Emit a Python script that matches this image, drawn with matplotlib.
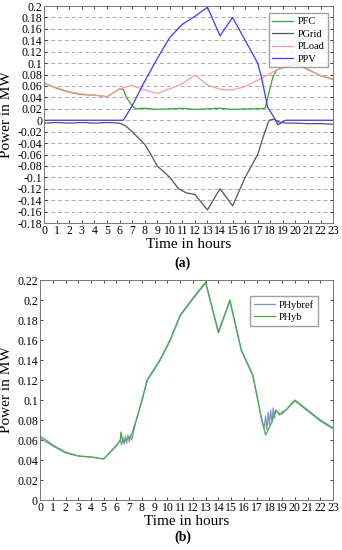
import numpy as np
import matplotlib
matplotlib.use('Agg')
import matplotlib.pyplot as plt

plt.rcParams['font.family'] = ['Liberation Serif', 'DejaVu Serif']

# (a) power flows (hour, MW)
t_load = [0, 1, 2, 3, 4, 5, 6, 7, 8, 9, 10, 11, 12, 13, 14, 15, 16, 17, 18, 18.5, 19, 20, 21, 22, 23]
p_load = [0.064, 0.057, 0.050, 0.046, 0.044, 0.041, 0.055, 0.061, 0.053, 0.047, 0.055, 0.064, 0.079, 0.062,
          0.054, 0.053, 0.059, 0.070, 0.082, 0.088, 0.092, 0.100, 0.088, 0.078, 0.071]

t_fc = [0, 1, 2, 3, 4, 5, 6, 6.3, 6.6, 7, 7.3, 8, 9, 10, 11, 12, 13, 14, 15, 16, 17, 17.6, 17.8, 18.2, 18.5,
        19, 20, 21, 22, 23]
p_fc = [0.065, 0.056, 0.049, 0.045, 0.044, 0.041, 0.055, 0.054, 0.038, 0.026, 0.020, 0.021, 0.019, 0.020,
        0.021, 0.019, 0.020, 0.021, 0.019, 0.020, 0.020, 0.021, 0.040, 0.075, 0.088, 0.092, 0.099, 0.089,
        0.078, 0.072]

t_pv = [0, 6.3, 7, 8, 9, 10, 11, 12, 13, 14, 15, 16, 17, 17.3, 17.8, 18.3, 18.6, 18.9, 19.2, 20, 23]
p_pv = [0.0, 0.0, 0.025, 0.068, 0.108, 0.145, 0.168, 0.182, 0.198, 0.148, 0.180, 0.140, 0.100, 0.075,
        0.022, 0.005, -0.008, -0.004, 0.0, 0.0, 0.0]

t_grid = [0, 1, 2, 3, 4, 5, 6, 6.5, 7, 8, 8.5, 9, 10, 10.7, 11.3, 12, 13, 14, 15, 16, 17, 17.5, 17.9, 18.3,
          18.7, 19.2, 20, 21, 22, 23]
p_grid = [-0.005, -0.004, -0.005, -0.004, -0.005, -0.004, -0.005, -0.010, -0.020, -0.042, -0.060, -0.080,
          -0.100, -0.120, -0.127, -0.130, -0.157, -0.120, -0.150, -0.100, -0.060, -0.025, 0.0, 0.002,
          -0.003, -0.005, -0.005, -0.006, -0.006, -0.007]

# (b) hybrid power
t_hyb = [0, 1, 2, 3, 4, 5, 6, 6.3, 6.35, 6.5, 7, 7.2, 7.5, 8, 8.4, 9.4, 10.2, 11, 12, 13, 14, 14.9, 15.8,
         16.7, 17.1, 17.4, 17.7, 18.2, 18.5, 18.8, 19, 19.3, 20, 21, 22, 23]
p_hyb = [0.064, 0.055, 0.048, 0.044, 0.043, 0.041, 0.055, 0.060, 0.068, 0.058, 0.062, 0.066, 0.078, 0.100,
         0.120, 0.140, 0.160, 0.185, 0.202, 0.218, 0.168, 0.200, 0.150, 0.125, 0.100, 0.080, 0.065, 0.078,
         0.090, 0.085, 0.088, 0.090, 0.100, 0.090, 0.080, 0.072]

t_ref = [0, 1, 2, 3, 4, 5, 6, 6.3, 6.4, 6.5, 6.6, 6.7, 6.8, 6.9, 7.0, 7.1, 7.2, 7.5, 8, 8.4, 9.4, 10.2,
         11, 12, 13, 14, 14.9, 15.8, 16.7, 17.1, 17.4, 17.6, 17.7, 17.8, 17.9, 18.0, 18.1, 18.2, 18.3,
         18.4, 18.5, 18.7, 19, 20, 21, 22, 23]
p_ref = [0.062, 0.054, 0.047, 0.044, 0.043, 0.041, 0.054, 0.060, 0.055, 0.063, 0.056, 0.064, 0.057,
         0.065, 0.058, 0.065, 0.060, 0.077, 0.099, 0.119, 0.139, 0.159, 0.184, 0.201, 0.217, 0.167, 0.199,
         0.149, 0.124, 0.099, 0.080, 0.072, 0.084, 0.070, 0.088, 0.075, 0.090, 0.078, 0.092, 0.082, 0.090,
         0.087, 0.086, 0.099, 0.089, 0.079, 0.071]

hours = list(range(24))
ticks_a = [round(0.2 - 0.02 * i, 2) for i in range(20)]
ticks_b = [round(0.02 * i, 2) for i in range(12)]


def fmt(v):
    return ('%g' % v).replace('\u2212', '-')


fig = plt.figure(figsize=(3.42, 5.5), dpi=100)

ax1 = fig.add_axes([0.129, 0.5945, 0.845, 0.3945])
ax1.plot(t_fc, p_fc, color='#33a833', lw=0.9, label='PFC')
ax1.plot(t_grid, p_grid, color='#555555', lw=0.9, label='PGrid')
ax1.plot(t_load, p_load, color='#ff9a9a', lw=0.9, label='PLoad')
ax1.plot(t_pv, p_pv, color='#3a3aff', lw=0.9, label='PPV')
ax1.set_xlim(0, 23)
ax1.set_ylim(-0.18, 0.2)
ax1.set_yticks(ticks_a)
ax1.set_yticklabels([fmt(v) for v in ticks_a])
ax1.set_xticks(hours)
ax1.yaxis.grid(True, ls=(0, (4, 3)), color='#aaaaaa', lw=0.7)
ax1.set_xlabel('Time in hours', fontsize=11, labelpad=1)
ax1.set_ylabel('Power in MW', fontsize=11, labelpad=3)
ax1.legend(loc='upper right', fontsize=7.5, frameon=True, fancybox=False, edgecolor='#888888',
           handlelength=2.0, handletextpad=0.4, borderpad=0.35, labelspacing=0.3,
           bbox_to_anchor=(1.0, 0.99))

ax2 = fig.add_axes([0.117, 0.0909, 0.857, 0.4])
ax2.plot(t_ref, p_ref, color='#6677bb', lw=0.9, alpha=0.8, label='PHybref')
ax2.plot(t_hyb, p_hyb, color='#44b044', lw=0.9, label='PHyb')
ax2.set_xlim(0, 23)
ax2.set_ylim(0, 0.22)
ax2.set_yticks(ticks_b)
ax2.set_yticklabels([fmt(v) for v in ticks_b])
ax2.set_xticks(hours)
ax2.set_xlabel('Time in hours', fontsize=11, labelpad=1)
ax2.set_ylabel('Power in MW', fontsize=11, labelpad=3)
ax2.legend(loc='upper right', fontsize=7.5, frameon=True, fancybox=False, edgecolor='#888888',
           handlelength=2.0, handletextpad=0.4, borderpad=0.35, labelspacing=0.3,
           bbox_to_anchor=(0.965, 0.95))

fig.text(0.535, 0.522, '(a)', ha='center', va='center', fontsize=10, weight='bold')
fig.text(0.535, 0.024, '(b)', ha='center', va='center', fontsize=10, weight='bold')

for ax in (ax1, ax2):
    ax.tick_params(direction='in', top=True, right=True, labelsize=8.5, length=2.5, pad=1.5, width=0.5)
    for s in ax.spines.values():
        s.set_color('#777777')
        s.set_linewidth(0.7)

fig.savefig('out.png', dpi=100)
